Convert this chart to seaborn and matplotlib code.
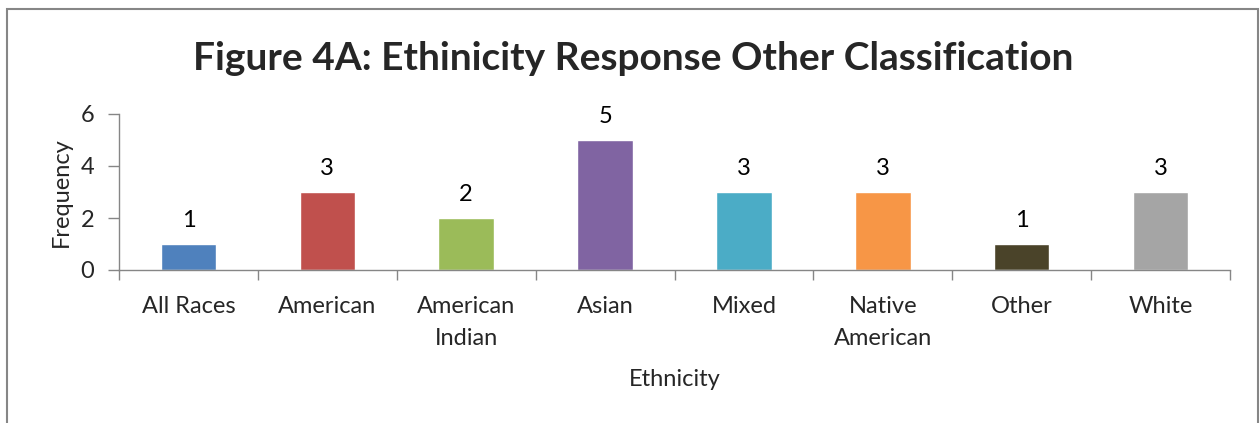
import matplotlib
matplotlib.use("Agg")
import matplotlib.pyplot as plt
import seaborn as sns
import pandas as pd
from matplotlib.patches import Rectangle
from matplotlib.ticker import FixedLocator

categories = ["All Races", "American", "American Indian", "Asian", "Mixed",
              "Native American", "Other", "White"]
tick_labels = ["All Races", "American", "American\nIndian", "Asian", "Mixed",
               "Native\nAmerican", "Other", "White"]
values = [1, 3, 2, 5, 3, 3, 1, 3]
colors = ["#4F81BD", "#C0504D", "#9BBB59", "#8064A2", "#4BACC6",
          "#F79646", "#4A4329", "#A5A5A5"]

sns.set_style("white")
plt.rcParams["font.family"] = ["Lato", "DejaVu Sans"]

W, H = 1260, 423
fig = plt.figure(figsize=(W / 100, H / 100), dpi=100)
ax = fig.add_axes([119 / W, (H - 270) / H, (1230 - 119) / W, (270 - 114) / H])

df = pd.DataFrame({"Ethnicity": categories, "Frequency": values})
sns.barplot(data=df, x="Ethnicity", y="Frequency", hue="Ethnicity",
            palette=colors, width=0.4, legend=False, ax=ax, saturation=1)

for i, v in enumerate(values):
    ax.text(i, v + 0.5, str(v), ha="center", va="bottom", fontsize=17, color="black")

ax.set_xlim(-0.5, len(categories) - 0.5)
ax.set_ylim(0, 6)
ax.set_yticks([0, 2, 4, 6])
ax.tick_params(axis="y", labelsize=17, length=8, width=1, color="#868686",
               direction="out", left=True, pad=10)
ax.xaxis.set_major_locator(FixedLocator([i - 0.5 for i in range(len(categories) + 1)]))
ax.xaxis.set_minor_locator(FixedLocator(list(range(len(categories)))))
ax.set_xticklabels([""] * (len(categories) + 1))
ax.set_xticklabels(tick_labels, minor=True, linespacing=1.65)
ax.tick_params(axis="x", which="major", length=7, width=1, color="#868686",
               direction="out", bottom=True)
ax.tick_params(axis="x", which="minor", length=0, labelsize=17, pad=19)

for s in ["top", "right"]:
    ax.spines[s].set_visible(False)
for s in ["left", "bottom"]:
    ax.spines[s].set_color("#868686")
    ax.spines[s].set_linewidth(1)

ax.set_xlabel("Ethnicity", fontsize=17, labelpad=14)
ax.set_ylabel("Frequency", fontsize=17, labelpad=6)

fig.text(633 / W, 1 - 58 / H, "Figure 4A: Ethinicity Response Other Classification",
         ha="center", va="center", fontsize=28, fontweight="bold")

fig.patches.append(Rectangle((7 / W, -0.05), (1258 - 7) / W, 1.05 - 9 / H,
                             transform=fig.transFigure, fill=False,
                             edgecolor="#868686", linewidth=1.5))

fig.savefig("out.png", dpi=100)
